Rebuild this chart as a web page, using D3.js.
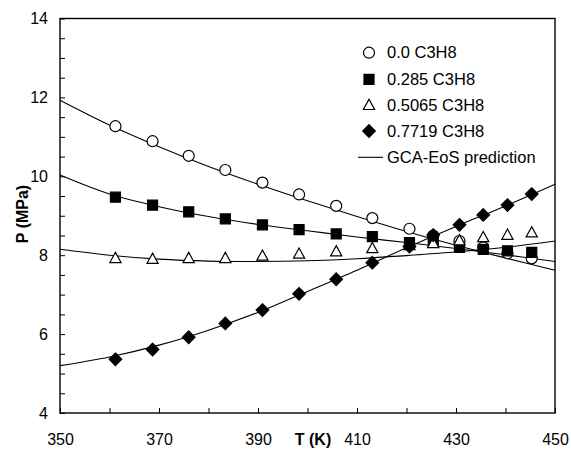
<!DOCTYPE html>
<html>
<head>
<meta charset="utf-8">
<script src="https://cdnjs.cloudflare.com/ajax/libs/d3/7.8.5/d3.min.js"></script>
<style>
  body { margin: 0; background: #fff; }
  svg text { font-family: "Liberation Sans", Arial, sans-serif; fill: #000; }
</style>
</head>
<body>
<div id="chart"></div>
<script>
// measured temperatures (K) and pressures (MPa), one list per mixture
var temps = [361.2, 368.7, 376.0, 383.4, 390.9, 398.3, 405.8, 413.1, 420.6, 425.4, 430.7, 435.5, 440.4, 445.3]
var p_000  = [11.27, 10.89, 10.52, 10.16, 9.84, 9.54, 9.25, 8.94, 8.67, 8.50, 8.36, 8.20, 8.05, 7.92]
var p_285  = [9.47, 9.27, 9.10, 8.92, 8.77, 8.65, 8.54, 8.47, 8.32, 8.34, 8.20, 8.15, 8.11, 8.07]
var p_5065 = [7.92, 7.90, 7.92, 7.92, 7.98, 8.03, 8.09, 8.17, 8.25, 8.30, 8.37, 8.45, 8.51, 8.57]
var p_7719 = [5.36, 5.61, 5.92, 6.27, 6.61, 7.02, 7.39, 7.81, 8.22, 8.51, 8.77, 9.02, 9.27, 9.55]

// GCA-EoS prediction curves
var fitT     = [350, 360, 370, 380, 390, 400, 410, 420, 430, 440, 450]
var fit_000  = [11.93, 11.30, 10.75, 10.25, 9.80, 9.38, 8.98, 8.60, 8.25, 7.93, 7.62]
var fit_285  = [10.03, 9.55, 9.23, 8.98, 8.78, 8.62, 8.46, 8.32, 8.17, 8.01, 7.84]
var fit_5065 = [8.15, 8.00, 7.90, 7.85, 7.84, 7.86, 7.91, 7.99, 8.08, 8.20, 8.36]
var fit_7719 = [5.20, 5.42, 5.72, 6.10, 6.55, 7.08, 7.62, 8.19, 8.73, 9.25, 9.80]

var seriesNames = ["0.0 C3H8", "0.285 C3H8", "0.5065 C3H8", "0.7719 C3H8"]
var fitLabel = "GCA-EoS prediction"
var xTicks = [350, 360, 370, 380, 390, 400, 410, 420, 430, 440, 450]
var yTicks = d3.range(4, 14.01, 0.5)

var width = 571, height = 451
var margin = {left: 60, right: 16, top: 18.5, bottom: 38}

var svg = d3.select("#chart").append("svg")
    .attr("width", width)
    .attr("height", height)

var x = d3.scaleLinear().domain([350, 450]).range([margin.left, width - margin.right])
var y = d3.scaleLinear().domain([4, 14]).range([height - margin.bottom, margin.top])

// axes with inward ticks
var xAxis = svg.append("g")
    .attr("transform", "translate(0," + y(4) + ")")
    .call(d3.axisBottom(x).tickValues(xTicks).tickSize(-5).tickFormat(function(d){ return d % 20 == 10 ? d : "" }))
xAxis.select(".domain").remove()
xAxis.selectAll("line").attr("stroke", "#000")
xAxis.selectAll("text").attr("y", 32).attr("dy", 0).attr("font-size", "16px")

var yAxis = svg.append("g")
    .attr("transform", "translate(" + x(350) + ",0)")
    .call(d3.axisLeft(y).tickValues(yTicks).tickSize(-5).tickFormat(function(d){ return d % 2 == 0 ? d : "" }))
yAxis.select(".domain").remove()
yAxis.selectAll("line").attr("stroke", "#000")
yAxis.selectAll("text").attr("x", -12).attr("dy", "0.34em").attr("font-size", "16px")

// frame
svg.append("rect")
    .attr("x", x(350)).attr("y", y(14))
    .attr("width", x(450) - x(350)).attr("height", y(4) - y(14))
    .attr("fill", "none").attr("stroke", "#000").attr("stroke-width", 1.4)

// axis titles
svg.append("text")
    .attr("x", 313).attr("y", 445)
    .attr("text-anchor", "middle")
    .attr("font-size", "16px").attr("font-weight", "bold")
    .text("T (K)")
svg.append("text")
    .attr("transform", "translate(28,214) rotate(-90)")
    .attr("text-anchor", "middle")
    .attr("font-size", "16px").attr("font-weight", "bold")
    .text("P (MPa)")

// prediction curves
var line = d3.line()
    .x(function(d){ return x(d[0]) })
    .y(function(d){ return y(d[1]) })
    .curve(d3.curveCatmullRom)

var fits = [fit_000, fit_285, fit_5065, fit_7719]
svg.selectAll("path.fit")
  .data(fits)
  .enter()
  .append("path")
    .attr("class", "fit")
    .attr("d", function(f){ return line(fitT.map(function(t, i){ return [t, f[i]] })) })
    .attr("fill", "none")
    .attr("stroke", "#000")
    .attr("stroke-width", 1.1)

// marker shapes
var shapes = [
  {path: d3.symbol().type(d3.symbolCircle).size(95)(), fill: "#fff"},
  {path: d3.symbol().type(d3.symbolSquare).size(100)(), fill: "#000"},
  {path: "M0,-6L5.6,4.2L-5.6,4.2Z", fill: "#fff"},
  {path: "M0,-6.3L6.3,0L0,6.3L-6.3,0Z", fill: "#000"}
]

var measured = [p_000, p_285, p_5065, p_7719]
measured.forEach(function(vals, s){
  svg.append("g").selectAll("path")
    .data(vals)
    .enter()
    .append("path")
      .attr("d", shapes[s].path)
      .attr("transform", function(d, i){ return "translate(" + x(temps[i]) + "," + y(d) + ")" })
      .attr("fill", shapes[s].fill)
      .attr("stroke", "#000")
      .attr("stroke-width", 1.2)
})

// legend
var legend = svg.append("g")
var rowY = [52.7, 79.3, 105.3, 131, 157.3]
seriesNames.forEach(function(name, s){
  legend.append("path")
    .attr("d", shapes[s].path)
    .attr("transform", "translate(369," + rowY[s] + ")")
    .attr("fill", shapes[s].fill)
    .attr("stroke", "#000")
    .attr("stroke-width", 1.2)
  legend.append("text")
    .attr("x", 387).attr("y", rowY[s])
    .attr("dy", "0.35em")
    .attr("font-size", "16.5px")
    .text(name)
})
legend.append("line")
    .attr("x1", 358).attr("x2", 383)
    .attr("y1", rowY[4]).attr("y2", rowY[4])
    .attr("stroke", "#000").attr("stroke-width", 1.1)
legend.append("text")
    .attr("x", 387).attr("y", rowY[4])
    .attr("dy", "0.35em")
    .attr("font-size", "16.5px")
    .text(fitLabel)
</script>
</body>
</html>
